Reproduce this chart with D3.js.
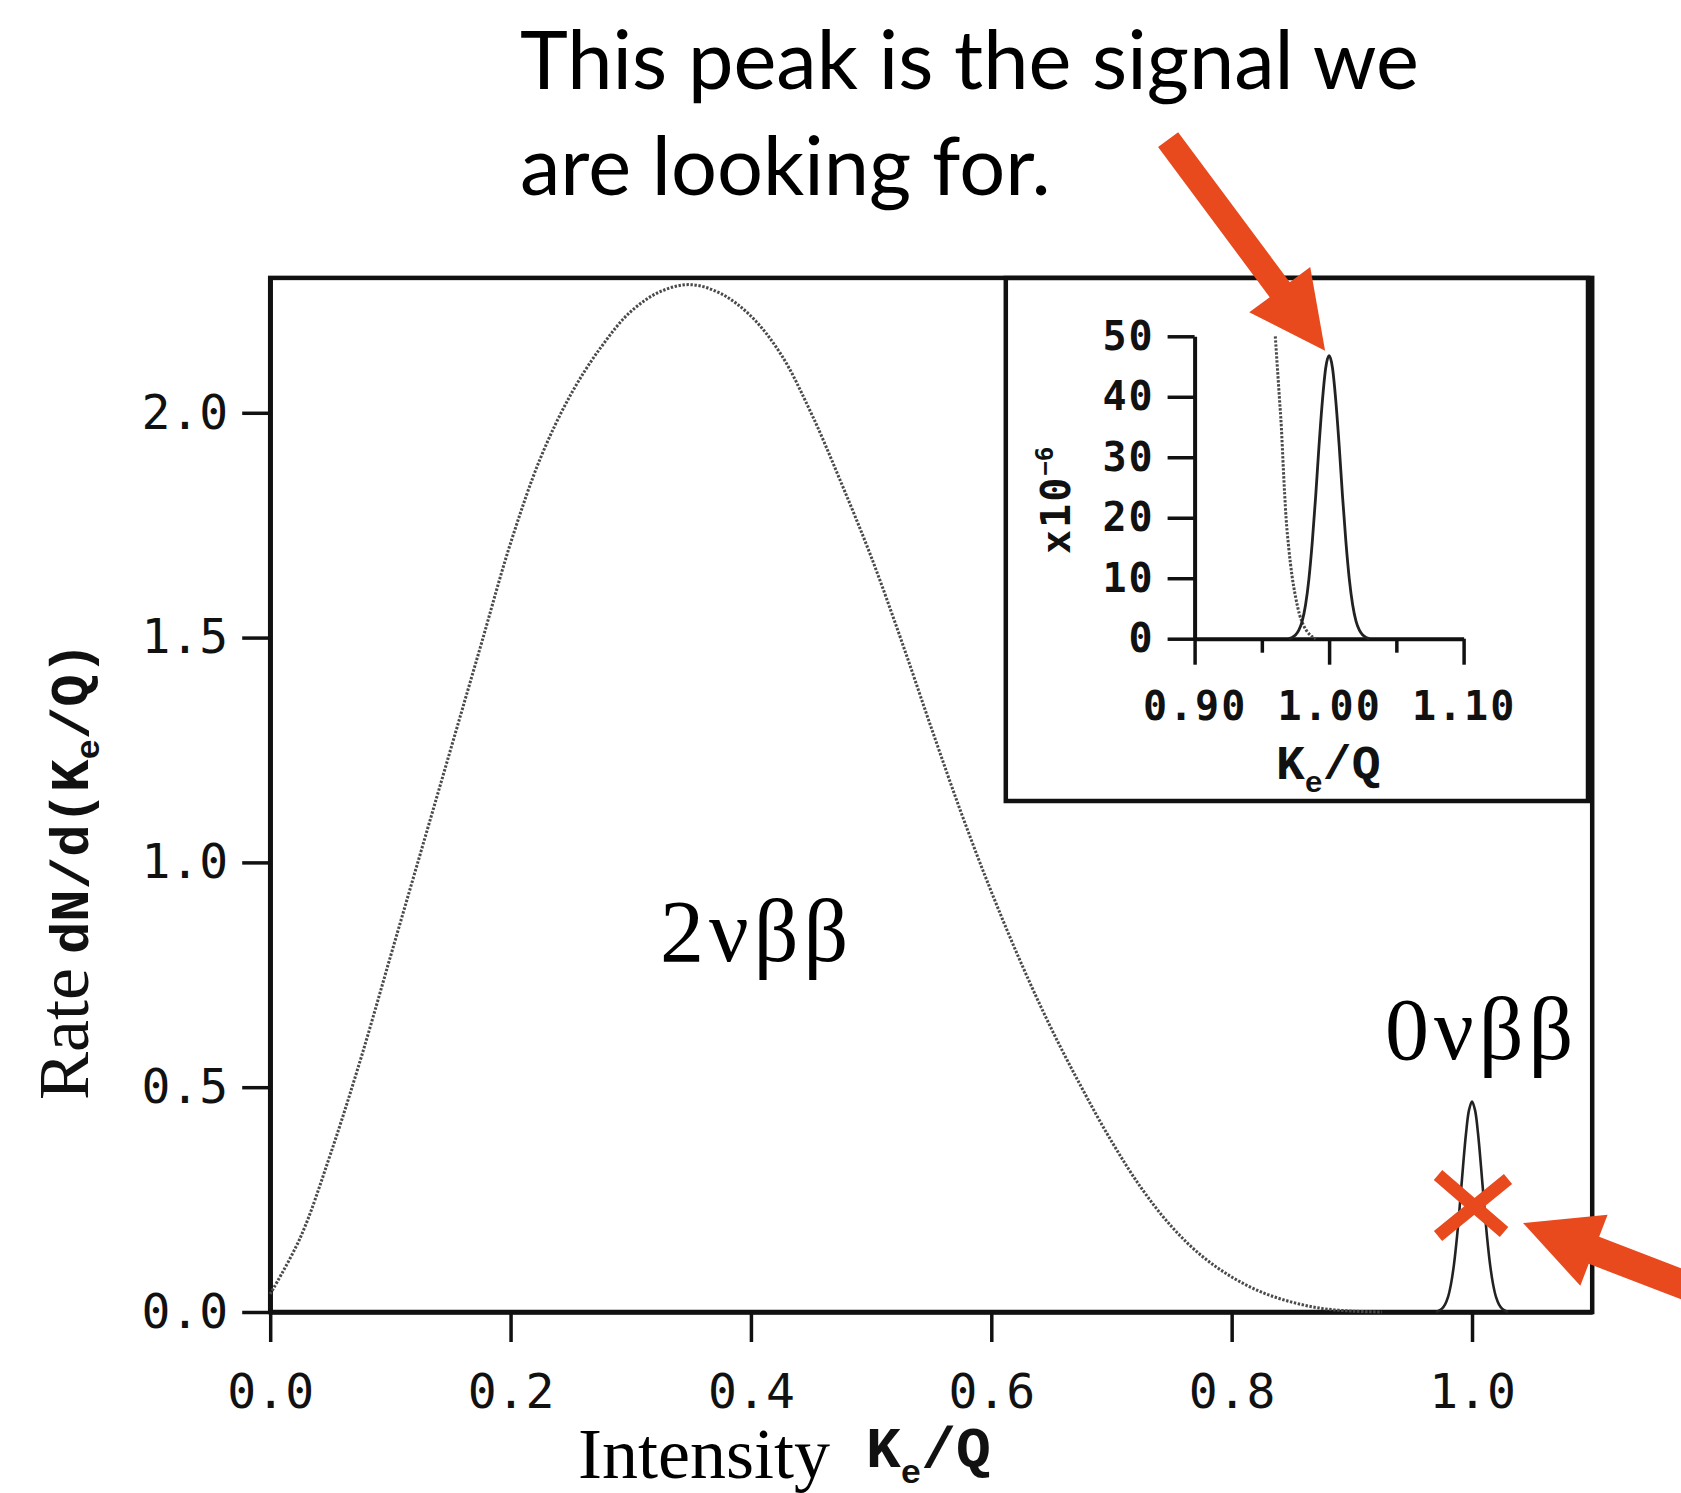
<!DOCTYPE html>
<html>
<head>
<meta charset="utf-8">
<script src="https://d3js.org/d3.v7.min.js"></script>
<style>
  body { margin: 0; background: white; }
  svg { display: block; }
</style>
</head>
<body>
<div id="vis"></div>
<script>
  // 2vbb continuous spectrum (x = Ke/Q)
  const spectrumX = [0, 0.025, 0.05, 0.075, 0.1, 0.125, 0.15, 0.175, 0.2, 0.225, 0.25, 0.275, 0.3, 0.325, 0.35,
    0.375, 0.4, 0.425, 0.45, 0.475, 0.5, 0.525, 0.55, 0.575, 0.6, 0.625, 0.65, 0.675, 0.7, 0.725, 0.75,
    0.775, 0.8, 0.825, 0.85, 0.875, 0.9, 0.925]
  const spectrumY = [0.04, 0.165, 0.35, 0.56, 0.79, 1.02, 1.25, 1.48, 1.71, 1.90, 2.04, 2.145, 2.225, 2.27, 2.285,
    2.265, 2.215, 2.13, 2.0, 1.845, 1.68, 1.495, 1.30, 1.11, 0.935, 0.775, 0.63, 0.50, 0.38, 0.275, 0.19,
    0.125, 0.078, 0.044, 0.022, 0.008, 0.002, 0]

  // 0vbb peak at the endpoint
  const peakX = [0.970, 0.9725, 0.975, 0.9775, 0.980, 0.9825, 0.985, 0.9875, 0.990, 0.9925, 0.995, 0.9975, 1.000,
    1.0025, 1.005, 1.0075, 1.010, 1.0125, 1.015, 1.0175, 1.020, 1.0225, 1.025, 1.0275, 1.030]
  const peakY = [0, 0.003, 0.0075, 0.0165, 0.033, 0.062, 0.106, 0.167, 0.242, 0.323, 0.397, 0.449, 0.468,
    0.449, 0.397, 0.323, 0.242, 0.167, 0.106, 0.062, 0.033, 0.0165, 0.0075, 0.003, 0]

  // inset, in units of 1e-6
  const insetPeakY = [0, 0.2, 0.6, 1.4, 2.9, 5.6, 9.9, 16.0, 23.5, 31.9, 39.3, 44.8, 46.8,
    44.8, 39.3, 31.9, 23.5, 16.0, 9.9, 5.6, 2.9, 1.4, 0.6, 0.2, 0]
  const insetTailX = [0.960, 0.9615, 0.963, 0.9645, 0.966, 0.968, 0.970, 0.9725, 0.975, 0.978, 0.981, 0.984, 0.987, 0.990]
  const insetTailY = [50, 45, 40, 35, 28, 20, 15, 10.3, 7, 4, 2.2, 1.1, 0.4, 0]

  const xTicks = [0, 0.2, 0.4, 0.6, 0.8, 1.0]
  const yTicks = [0, 0.5, 1.0, 1.5, 2.0]
  const insetXMajor = [0.90, 1.00, 1.10]
  const insetXMinor = [0.95, 1.05]
  const insetYTicks = [0, 10, 20, 30, 40, 50]

  const titleLines = ['This peak is the signal we', 'are looking for.']
  const xMarker = {x: 1.0, y: 0.238}

  const red = '#e84a1e'
  const mono = "'DejaVu Sans Mono', monospace"
  const courier = "'Liberation Mono', monospace"
  const serif = "'Liberation Serif', 'Times New Roman', serif"

  const svg = d3.select('#vis').append('svg')
    .attr('width', 1681)
    .attr('height', 1493)

  // scales
  const x = d3.scaleLinear().domain([0, 1.1]).range([270.2, 1592.2])
  const y = d3.scaleLinear().domain([0, 2.3]).range([1312, 277.9])
  const xIn = d3.scaleLinear().domain([0.9, 1.1]).range([1194.6, 1463.6])
  const yIn = d3.scaleLinear().domain([0, 50]).range([638.7, 336.3])

  // frame
  svg.append('rect')
    .attr('x', x(0)).attr('y', y(2.3))
    .attr('width', x(1.1) - x(0)).attr('height', y(0) - y(2.3))
    .attr('fill', 'none').attr('stroke', '#111').attr('stroke-width', 4.5)

  // main axes
  const yAxis = svg.append('g')
    .attr('transform', 'translate(' + x(0) + ',0)')
    .call(d3.axisLeft(y).tickValues(yTicks).tickSize(28).tickSizeOuter(0).tickPadding(14).tickFormat(d3.format('.1f')))
  const xAxis = svg.append('g')
    .attr('transform', 'translate(0,' + y(0) + ')')
    .call(d3.axisBottom(x).tickValues(xTicks).tickSize(30).tickSizeOuter(0).tickPadding(32).tickFormat(d3.format('.1f')))

  ;[yAxis, xAxis].forEach(function (g) {
    g.select('.domain').attr('stroke', '#111').attr('stroke-width', 4.5)
    g.selectAll('.tick line').attr('stroke', '#111').attr('stroke-width', 3.5)
    g.selectAll('.tick text')
      .attr('fill', '#111')
      .style('font-family', mono)
      .style('font-size', '48px')
  })

  // curves
  const line = d3.line()
    .x(function (d) { return x(d[0]) })
    .y(function (d) { return y(d[1]) })
    .curve(d3.curveCatmullRom.alpha(0.5))

  svg.append('path')
    .attr('d', line(d3.zip(spectrumX, spectrumY)))
    .attr('fill', 'none')
    .attr('stroke', '#4a4a4a')
    .attr('stroke-width', 3)
    .attr('stroke-dasharray', '2.4,1.6')

  svg.append('path')
    .attr('d', line(d3.zip(peakX, peakY)))
    .attr('fill', 'none')
    .attr('stroke', '#222')
    .attr('stroke-width', 2.6)

  // labels in the plot
  svg.append('text')
    .attr('x', 660).attr('y', 961)
    .style('font-family', serif).style('font-size', '88px').style('letter-spacing', '5px')
    .text('2νββ')
  svg.append('text')
    .attr('x', 1385).attr('y', 1059)
    .style('font-family', serif).style('font-size', '88px').style('letter-spacing', '5px')
    .text('0νββ')

  // axis titles
  const yTitle = svg.append('text')
    .attr('transform', 'translate(88,1100) rotate(-90)')
    .attr('fill', '#111')
  yTitle.append('tspan').style('font-family', serif).style('font-size', '72px').text('Rate')
  yTitle.append('tspan').attr('dx', 14).style('font-family', courier).style('font-weight', 'bold').style('font-size', '54px').text('dN/d(K')
  yTitle.append('tspan').attr('dy', 11).style('font-family', courier).style('font-weight', 'bold').style('font-size', '34px').text('e')
  yTitle.append('tspan').attr('dy', -11).style('font-family', courier).style('font-weight', 'bold').style('font-size', '54px').text('/Q)')

  svg.append('text')
    .attr('x', 578).attr('y', 1478)
    .style('font-family', serif).style('font-size', '72px')
    .text('Intensity')
  const xTitle = svg.append('text').attr('x', 866).attr('y', 1467).attr('fill', '#111')
    .style('font-family', courier).style('font-weight', 'bold')
  xTitle.append('tspan').style('font-size', '58px').text('K')
  xTitle.append('tspan').attr('dy', 16).style('font-size', '34px').text('e')
  xTitle.append('tspan').attr('dy', -16).style('font-size', '58px').text('/Q')

  // inset
  svg.append('rect')
    .attr('x', 1005.8).attr('y', 278)
    .attr('width', 1588 - 1005.8).attr('height', 801 - 278)
    .attr('fill', 'white').attr('stroke', '#111').attr('stroke-width', 4.5)

  const inY = svg.append('g')
    .attr('transform', 'translate(' + xIn(0.9) + ',0)')
    .call(d3.axisLeft(yIn).tickValues(insetYTicks).tickSize(27).tickSizeOuter(0).tickPadding(13).tickFormat(d3.format('d')))
  const inXMinor = svg.append('g')
    .attr('transform', 'translate(0,' + yIn(0) + ')')
    .call(d3.axisBottom(xIn).tickValues(insetXMinor).tickSize(14).tickSizeOuter(0).tickFormat(''))
  const inX = svg.append('g')
    .attr('transform', 'translate(0,' + yIn(0) + ')')
    .call(d3.axisBottom(xIn).tickValues(insetXMajor).tickSize(26).tickSizeOuter(0).tickPadding(27).tickFormat(d3.format('.2f')))

  ;[inY, inX, inXMinor].forEach(function (g) {
    g.select('.domain').attr('stroke', '#111').attr('stroke-width', 4)
    g.selectAll('.tick line').attr('stroke', '#111').attr('stroke-width', 3.5)
    g.selectAll('.tick text')
      .attr('fill', '#111')
      .style('font-family', mono)
      .style('font-weight', 'bold')
      .style('font-size', '40px')
      .style('letter-spacing', '2px')
  })
  inXMinor.select('.domain').remove()

  const inLine = d3.line()
    .x(function (d) { return xIn(d[0]) })
    .y(function (d) { return yIn(d[1]) })
    .curve(d3.curveMonotoneX)

  svg.append('path')
    .attr('d', inLine(d3.zip(insetTailX, insetTailY)))
    .attr('fill', 'none')
    .attr('stroke', '#4a4a4a')
    .attr('stroke-width', 3)
    .attr('stroke-dasharray', '2.4,1.6')
  svg.append('path')
    .attr('d', inLine(d3.zip(peakX, insetPeakY)))
    .attr('fill', 'none')
    .attr('stroke', '#222')
    .attr('stroke-width', 2.8)

  const inTitle = svg.append('text').attr('x', 1276).attr('y', 779).attr('fill', '#111')
    .style('font-family', courier).style('font-weight', 'bold')
  inTitle.append('tspan').style('font-size', '48px').text('K')
  inTitle.append('tspan').attr('dy', 13).style('font-size', '30px').text('e')
  inTitle.append('tspan').attr('dy', -13).style('font-size', '48px').text('/Q')

  const inYTitle = svg.append('text')
    .attr('transform', 'translate(1070,554) rotate(-90)')
    .attr('fill', '#111')
    .style('font-family', mono).style('font-weight', 'bold')
  inYTitle.append('tspan').style('font-size', '40px').style('letter-spacing', '2px').text('x10')
  inYTitle.append('tspan').attr('dy', -17).style('font-size', '24px').text('−6')

  // red cross on the peak
  const cx = x(xMarker.x), cy = y(xMarker.y)
  svg.append('path')
    .attr('d', 'M' + (cx - 34) + ',' + (cy - 30) + 'L' + (cx + 32) + ',' + (cy + 27) +
               'M' + (cx + 36) + ',' + (cy - 26) + 'L' + (cx - 34) + ',' + (cy + 31))
    .attr('stroke', red).attr('stroke-width', 13).attr('fill', 'none')

  // arrows, pointing at the peaks
  function arrowPoints(tip, angle, length, shaft, headLen, headHalf) {
    const ux = Math.cos(angle), uy = Math.sin(angle)
    const px = -uy, py = ux
    const bx = tip[0] + ux * headLen, by = tip[1] + uy * headLen
    const tx = tip[0] + ux * length, ty = tip[1] + uy * length
    const s = shaft / 2
    return [tip,
      [bx + px * headHalf, by + py * headHalf],
      [bx + px * s, by + py * s],
      [tx + px * s, ty + py * s],
      [tx - px * s, ty - py * s],
      [bx - px * s, by - py * s],
      [bx - px * headHalf, by - py * headHalf]]
  }

  const topTip = [xIn(1.0) - 4, yIn(d3.max(insetPeakY)) - 5]
  const bottomTip = [cx + 51, cy + 18]

  svg.append('polygon')
    .attr('points', arrowPoints(topTip, Math.atan2(-211, -157), 263, 25, 76, 38).join(' '))
    .attr('fill', red)
  svg.append('polygon')
    .attr('points', arrowPoints(bottomTip, Math.atan2(0.359, 0.933), 240, 29, 76, 38).join(' '))
    .attr('fill', red)

  // annotation text, fitted to the width it has in the picture
  const note = svg.append('g')
  titleLines.forEach(function (t, i) {
    note.append('text')
      .attr('x', 520).attr('y', 89 + i * 106)
      .style('font-family', 'Lato, sans-serif')
      .style('font-size', '80px')
      .text(t)
  })
  const w = note.select('text').node().getComputedTextLength()
  note.selectAll('text').style('font-size', (80 * 899 / w) + 'px')
</script>
</body>
</html>
